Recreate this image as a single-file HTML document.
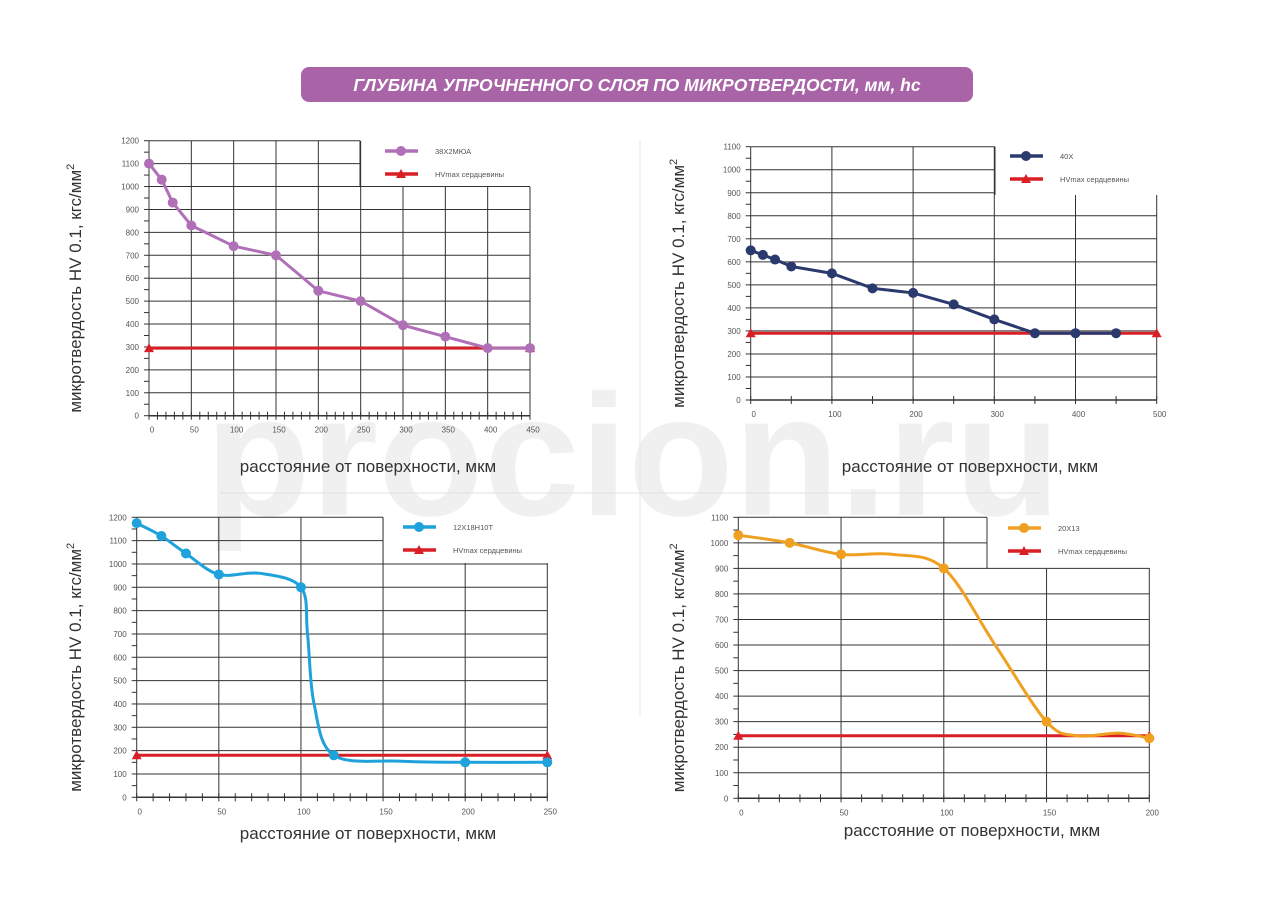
<!DOCTYPE html>
<html><head><meta charset="utf-8"><style>
body{margin:0;background:#fff;width:1280px;height:905px;overflow:hidden;font-family:"Liberation Sans",sans-serif}
</style></head><body>
<svg id="s" width="1280" height="905" xmlns="http://www.w3.org/2000/svg" font-family="Liberation Sans, sans-serif">
<text x="205" y="515" font-size="173" font-weight="bold" fill="#f0f0f0">procion.ru</text>
<line x1="640" y1="140" x2="640" y2="715" stroke="#e6e6e6" stroke-width="1"/>
<line x1="220" y1="493" x2="1040" y2="493" stroke="#e2e2e2" stroke-width="1"/>
<rect x="301" y="67" width="672" height="35" rx="8" fill="#a964a8"/>
<text x="637" y="91" font-size="17.5" font-weight="bold" font-style="italic" fill="#fff" text-anchor="middle">ГЛУБИНА УПРОЧНЕННОГО СЛОЯ ПО МИКРОТВЕРДОСТИ, мм, hc</text>
<g id="g"></g>
</svg>
<script>
var NS="http://www.w3.org/2000/svg",G=document.getElementById('g');
function el(t,a,txt){var e=document.createElementNS(NS,t);for(var k in a)e.setAttribute(k,a[k]);if(txt!=null)e.textContent=txt;G.appendChild(e);return e;}
function tri(x,y,c){el('polygon',{points:(x-5)+','+(y+4)+' '+(x+5)+','+(y+4)+' '+x+','+(y-5),fill:c});}
function path(pts,smooth){var d='M'+pts[0][0]+','+pts[0][1];
 if(!smooth){for(var i=1;i<pts.length;i++)d+=' L'+pts[i][0]+','+pts[i][1];return d;}
 for(var i=0;i<pts.length-1;i++){var p0=pts[i-1]||pts[i],p1=pts[i],p2=pts[i+1],p3=pts[i+2]||p2;
 var c1=[p1[0]+(p2[0]-p0[0])/6,p1[1]+(p2[1]-p0[1])/6],c2=[p2[0]-(p3[0]-p1[0])/6,p2[1]-(p3[1]-p1[1])/6];
 d+=' C'+c1+' '+c2+' '+p2;}return d;}
function chart(o){
 var X=function(v){return o.x0+(o.x1-o.x0)*v/o.xmax},Y=function(v){return o.y0-(o.y0-o.y1)*v/o.ymax};
 for(var v=0;v<=o.ymax;v+=100){var y=Y(v);var xe=(y<o.legY-1)?o.legX:o.x1;
  el('line',{x1:o.x0,y1:y,x2:xe,y2:y,stroke:'#333','stroke-width':1});
  el('text',{x:o.x0-10,y:y+3,'font-size':8,fill:'#555','text-anchor':'end'},v);}
 for(var v=0;v<=o.ymax;v+=50){el('line',{x1:o.x0-5,y1:Y(v),x2:o.x0,y2:Y(v),stroke:'#333'});}
 for(var v=0;v<=o.xmax;v+=o.xg){var x=X(v);var yt=(x>o.legX+1)?o.legY:o.y1;
  el('line',{x1:x,y1:yt,x2:x,y2:o.y0,stroke:'#333','stroke-width':1});
  el('text',{x:x+3,y:o.y0+17,'font-size':8,fill:'#555','text-anchor':'middle'},v);}
 el('line',{x1:o.legX,y1:o.y1,x2:o.legX,y2:o.legY,stroke:'#333'});
 for(var v=0;v<=o.xmax;v+=o.xt){el('line',{x1:X(v),y1:o.y0-4,x2:X(v),y2:o.y0+4,stroke:'#333'});}
 el('line',{x1:o.x0,y1:o.y0,x2:o.x1,y2:o.y0,stroke:'#333','stroke-width':1.5});
 var ry=Y(o.red);el('line',{x1:X(0),y1:ry,x2:X(o.xmax),y2:ry,stroke:'#d81f26','stroke-width':3});
 tri(X(0),ry,'#d81f26');tri(X(o.xmax),ry,'#d81f26');
 var pts=o.data.map(function(p){return [X(p[0]),Y(p[1]),p[2]]});
 el('path',{d:path(pts.map(function(p){return [p[0],p[1]]}),o.smooth),fill:'none',stroke:o.c,'stroke-width':3});
 pts.forEach(function(p){if(!p[2])el('circle',{cx:p[0],cy:p[1],r:5,fill:o.c});});
 el('line',{x1:o.lx,y1:o.ly,x2:o.lx+33,y2:o.ly,stroke:o.c,'stroke-width':3.5});
 el('circle',{cx:o.lx+16,cy:o.ly,r:5,fill:o.c});
 el('text',{x:o.lx+50,y:o.ly+3,'font-size':7.5,fill:'#555'},o.name);
 el('line',{x1:o.lx,y1:o.ly+23,x2:o.lx+33,y2:o.ly+23,stroke:'#d81f26','stroke-width':3.5});
 tri(o.lx+16,o.ly+23,'#d81f26');
 el('text',{x:o.lx+50,y:o.ly+26,'font-size':7.5,fill:'#555'},'HVmax сердцевины');
 el('text',{x:o.tx,y:o.ty,'font-size':17,fill:'#333','text-anchor':'middle'},'расстояние от поверхности, мкм');
 var cy=(o.y0+o.y1)/2+10;var t=el('text',{x:0,y:0,'font-size':17,fill:'#333','text-anchor':'middle',transform:'translate('+o.yx+','+cy+') rotate(-90)'},'микротвердость HV 0.1, кгс/мм');
 var ts=document.createElementNS(NS,'tspan');ts.setAttribute('dy','-7');ts.setAttribute('font-size','11');ts.textContent='2';t.appendChild(ts);
}
chart({x0:149,x1:530,y0:415.7,y1:140.7,xmax:450,ymax:1200,xg:50,xt:10,legX:360,legY:187,red:295,c:'#b070b8',name:'38Х2МЮА',smooth:false,
 data:[[0,1100],[15,1030],[28,930],[50,830],[100,740],[150,700],[200,545],[250,500],[300,395],[350,345],[400,295],[450,295]],lx:385,ly:151,tx:368,ty:472,yx:81});
chart({x0:750.7,x1:1156.7,y0:400,y1:146.7,xmax:500,ymax:1100,xg:100,xt:50,legX:995,legY:195,red:290,c:'#2b3a6e',name:'40Х',smooth:false,
 data:[[0,650],[15,630],[30,610],[50,580],[100,550],[150,485],[200,465],[250,415],[300,350],[350,290],[400,290],[450,290]],lx:1010,ly:156,tx:970,ty:472,yx:684});
chart({x0:136.7,x1:547.3,y0:797.3,y1:517.3,xmax:250,ymax:1200,xg:50,xt:10,legX:383,legY:563,red:180,c:'#1fa2db',name:'12Х18Н10Т',smooth:true,
 data:[[0,1175],[15,1120],[30,1045],[50,955],[75,960,1],[100,900],[104,700,1],[108,400,1],[120,180],[160,155,1],[200,150],[250,150]],lx:403,ly:527,tx:368,ty:839,yx:81});
chart({x0:738.3,x1:1149.3,y0:798.3,y1:517.3,xmax:200,ymax:1100,xg:50,xt:10,legX:987,legY:568,red:245,c:'#f0a021',name:'20Х13',smooth:true,
 data:[[0,1030],[25,1000],[50,955],[75,955,1],[100,900],[125,600,1],[150,300],[165,245,1],[185,255,1],[200,235]],lx:1008,ly:528,tx:972,ty:836,yx:684});
</script>
</body></html>
